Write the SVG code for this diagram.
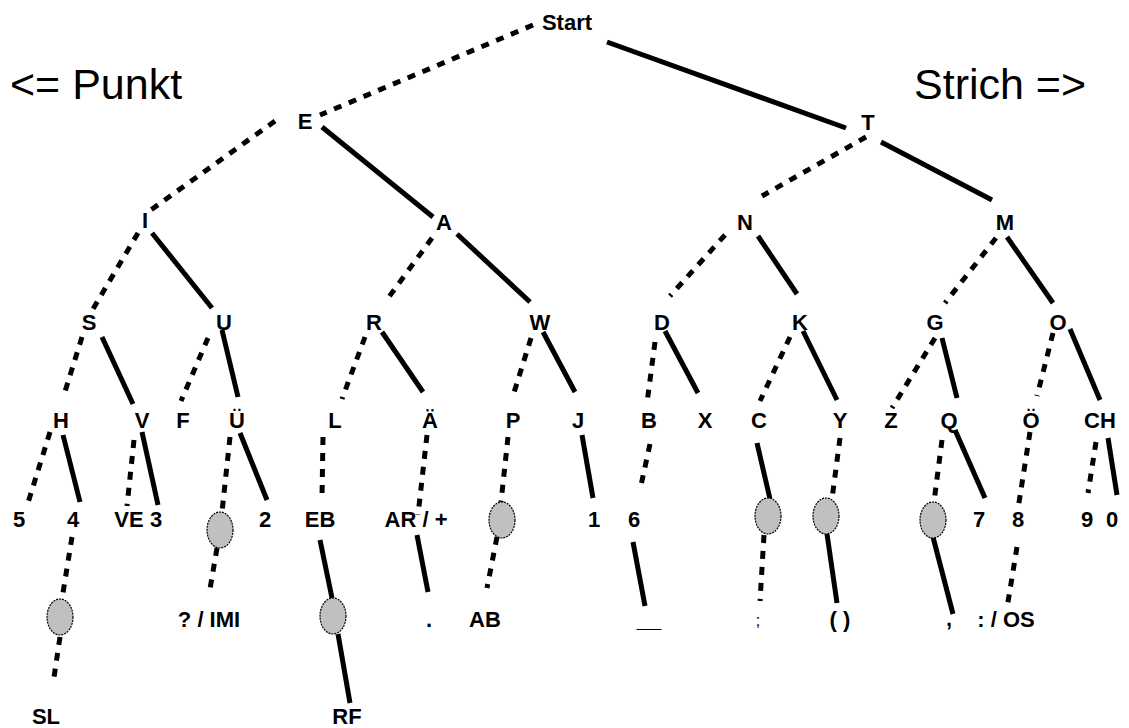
<svg xmlns="http://www.w3.org/2000/svg" width="1129" height="728" viewBox="0 0 1129 728">
<style>
.lbl{font-family:"Liberation Sans",Arial,sans-serif;font-weight:bold;font-size:22px;text-anchor:middle;fill:#000}
.big{font-family:"Liberation Sans",Arial,sans-serif;font-size:43px;fill:#000}
.dot{stroke:#000;stroke-width:5;stroke-dasharray:8 8;fill:none}
.sol{stroke:#000;stroke-width:5;fill:none}
.ell{fill:#c0c0c0;stroke:#000;stroke-width:1.2;stroke-dasharray:2 1}
</style>
<rect width="1129" height="728" fill="#fff"/>
<text class="big" x="10" y="99">&lt;= Punkt</text>
<text class="big" x="914" y="99">Strich =&gt;</text>
<g id="connectors">
<line class="dot" x1="533" y1="25" x2="320" y2="115"/>
<line class="sol" x1="607" y1="42" x2="846" y2="128"/>
<line class="dot" x1="275" y1="121" x2="148" y2="212"/>
<line class="sol" x1="322" y1="127" x2="433" y2="217"/>
<line class="dot" x1="866" y1="137" x2="762" y2="196"/>
<line class="sol" x1="881" y1="142" x2="992" y2="200"/>
<line class="dot" x1="138" y1="233" x2="93" y2="309"/>
<line class="sol" x1="152" y1="233" x2="212" y2="308"/>
<line class="dot" x1="432" y1="238" x2="386" y2="301"/>
<line class="sol" x1="457" y1="234" x2="530" y2="302"/>
<line class="dot" x1="725" y1="235" x2="670" y2="296"/>
<line class="sol" x1="758" y1="236" x2="797" y2="294"/>
<line class="dot" x1="996" y1="238" x2="945" y2="303"/>
<line class="sol" x1="1007" y1="237" x2="1053" y2="303"/>
<line class="dot" x1="82" y1="337" x2="63" y2="398"/>
<line class="sol" x1="102" y1="337" x2="133" y2="404"/>
<line class="dot" x1="208" y1="338" x2="181" y2="401"/>
<line class="sol" x1="222" y1="330" x2="238" y2="397"/>
<line class="dot" x1="365" y1="337" x2="342" y2="399"/>
<line class="sol" x1="382" y1="332" x2="423" y2="392"/>
<line class="dot" x1="531" y1="338" x2="512" y2="399"/>
<line class="sol" x1="543" y1="332" x2="575" y2="392"/>
<line class="dot" x1="655" y1="342" x2="647" y2="403"/>
<line class="sol" x1="665" y1="331" x2="698" y2="393"/>
<line class="dot" x1="790" y1="337" x2="760" y2="401"/>
<line class="sol" x1="803" y1="331" x2="837" y2="400"/>
<line class="dot" x1="935" y1="338" x2="892" y2="408"/>
<line class="sol" x1="942" y1="338" x2="957" y2="398"/>
<line class="dot" x1="1053" y1="333" x2="1037" y2="396"/>
<line class="sol" x1="1070" y1="329" x2="1100" y2="400"/>
<line class="dot" x1="50" y1="432" x2="27" y2="506"/>
<line class="sol" x1="63" y1="435" x2="80" y2="502"/>
<line class="dot" x1="134" y1="440" x2="127" y2="506"/>
<line class="sol" x1="142" y1="432" x2="158" y2="505"/>
<line class="dot" x1="230" y1="437" x2="222" y2="512"/>
<line class="sol" x1="240" y1="433" x2="267" y2="500"/>
<line class="dot" x1="323" y1="437" x2="322" y2="498"/>
<line class="dot" x1="427" y1="435" x2="418" y2="515"/>
<line class="dot" x1="508" y1="437" x2="501" y2="502"/>
<line class="sol" x1="582" y1="435" x2="593" y2="498"/>
<line class="dot" x1="650" y1="444" x2="640" y2="490"/>
<line class="sol" x1="757" y1="443" x2="770" y2="499"/>
<line class="dot" x1="840" y1="438" x2="832" y2="499"/>
<line class="dot" x1="942" y1="440" x2="934" y2="502"/>
<line class="sol" x1="955" y1="430" x2="985" y2="498"/>
<line class="dot" x1="1030" y1="432" x2="1018" y2="509"/>
<line class="dot" x1="1096" y1="442" x2="1088" y2="493"/>
<line class="sol" x1="1108" y1="438" x2="1117" y2="495"/>
<line class="dot" x1="72" y1="537" x2="62" y2="599"/>
<line class="dot" x1="217" y1="548" x2="210" y2="589"/>
<line class="sol" x1="320" y1="540" x2="332" y2="598"/>
<line class="sol" x1="417" y1="535" x2="428" y2="592"/>
<line class="dot" x1="497" y1="537" x2="487" y2="588"/>
<line class="sol" x1="633" y1="542" x2="645" y2="606"/>
<line class="dot" x1="764" y1="535" x2="760" y2="601"/>
<line class="sol" x1="827" y1="534" x2="837" y2="603"/>
<line class="sol" x1="933" y1="537" x2="953" y2="614"/>
<line class="dot" x1="1017" y1="547" x2="1007" y2="608"/>
<line class="dot" x1="60" y1="637" x2="53" y2="684"/>
<line class="sol" x1="338" y1="634" x2="350" y2="703"/>
</g>
<g id="n-start"><text class="lbl" x="567" y="30">Start</text></g>
<g id="n-E"><text class="lbl" x="305" y="129">E</text></g>
<g id="n-T"><text class="lbl" x="868" y="130">T</text></g>
<g id="n-I"><text class="lbl" x="145" y="228">I</text></g>
<g id="n-A"><text class="lbl" x="444" y="230">A</text></g>
<g id="n-N"><text class="lbl" x="745" y="230">N</text></g>
<g id="n-M"><text class="lbl" x="1005" y="230">M</text></g>
<g id="n-S"><text class="lbl" x="89" y="330">S</text></g>
<g id="n-U"><text class="lbl" x="224" y="330">U</text></g>
<g id="n-R"><text class="lbl" x="374" y="330">R</text></g>
<g id="n-W"><text class="lbl" x="540" y="330">W</text></g>
<g id="n-D"><text class="lbl" x="662" y="330">D</text></g>
<g id="n-K"><text class="lbl" x="800" y="330">K</text></g>
<g id="n-G"><text class="lbl" x="935" y="330">G</text></g>
<g id="n-O"><text class="lbl" x="1058" y="330">O</text></g>
<g id="n-H"><text class="lbl" x="61" y="428">H</text></g>
<g id="n-V"><text class="lbl" x="142" y="428">V</text></g>
<g id="n-F"><text class="lbl" x="183" y="428">F</text></g>
<g id="n-UE"><text class="lbl" x="237" y="428">Ü</text></g>
<g id="n-L"><text class="lbl" x="335" y="428">L</text></g>
<g id="n-AE"><text class="lbl" x="430" y="428">Ä</text></g>
<g id="n-P"><text class="lbl" x="513" y="428">P</text></g>
<g id="n-J"><text class="lbl" x="578" y="428">J</text></g>
<g id="n-B"><text class="lbl" x="649" y="428">B</text></g>
<g id="n-X"><text class="lbl" x="705" y="428">X</text></g>
<g id="n-C"><text class="lbl" x="759" y="428">C</text></g>
<g id="n-Y"><text class="lbl" x="840" y="428">Y</text></g>
<g id="n-Z"><text class="lbl" x="891" y="428">Z</text></g>
<g id="n-Q"><text class="lbl" x="949" y="428">Q</text></g>
<g id="n-OE"><text class="lbl" x="1031" y="428">Ö</text></g>
<g id="n-CH"><text class="lbl" x="1100" y="428">CH</text></g>
<g id="n-5"><text class="lbl" x="19" y="527">5</text></g>
<g id="n-4"><text class="lbl" x="73" y="527">4</text></g>
<g id="n-VE"><text class="lbl" x="129" y="527">VE</text></g>
<g id="n-3"><text class="lbl" x="156" y="527">3</text></g>
<g id="n-e1"><ellipse class="ell" cx="220" cy="530" rx="13" ry="18"/></g>
<g id="n-2"><text class="lbl" x="265" y="527">2</text></g>
<g id="n-EB"><text class="lbl" x="320" y="527">EB</text></g>
<g id="n-AR"><text class="lbl" x="416" y="527">AR / +</text></g>
<g id="n-e2"><ellipse class="ell" cx="502" cy="520" rx="13" ry="18"/></g>
<g id="n-1"><text class="lbl" x="594" y="527">1</text></g>
<g id="n-6"><text class="lbl" x="634" y="527">6</text></g>
<g id="n-e3"><ellipse class="ell" cx="768" cy="516" rx="13" ry="18"/></g>
<g id="n-e4"><ellipse class="ell" cx="826" cy="516" rx="13" ry="18"/></g>
<g id="n-e5"><ellipse class="ell" cx="933" cy="520" rx="13" ry="18"/></g>
<g id="n-7"><text class="lbl" x="979" y="527">7</text></g>
<g id="n-8"><text class="lbl" x="1018" y="527">8</text></g>
<g id="n-9"><text class="lbl" x="1087" y="527">9</text></g>
<g id="n-0"><text class="lbl" x="1112" y="527">0</text></g>
<g id="n-e6"><ellipse class="ell" cx="60" cy="617" rx="13" ry="18"/></g>
<g id="n-IMI"><text class="lbl" x="209" y="627">? / IMI</text></g>
<g id="n-e7"><ellipse class="ell" cx="333" cy="616" rx="13" ry="18"/></g>
<g id="n-dot"><text class="lbl" x="429" y="627">.</text></g>
<g id="n-AB"><text class="lbl" x="485" y="627">AB</text></g>
<g id="n-minus"><text class="lbl" x="649" y="627">__</text></g>
<g id="n-semi"><text class="lbl" x="758" y="626" style="font-size:16px;font-weight:normal">;</text></g>
<g id="n-paren"><text class="lbl" x="840" y="627">( )</text></g>
<g id="n-comma"><text class="lbl" x="949" y="626">,</text></g>
<g id="n-OS"><text class="lbl" x="1006" y="627">: / OS</text></g>
<g id="n-SL"><text class="lbl" x="46" y="724">SL</text></g>
<g id="n-RF"><text class="lbl" x="347" y="724">RF</text></g>
</svg>
